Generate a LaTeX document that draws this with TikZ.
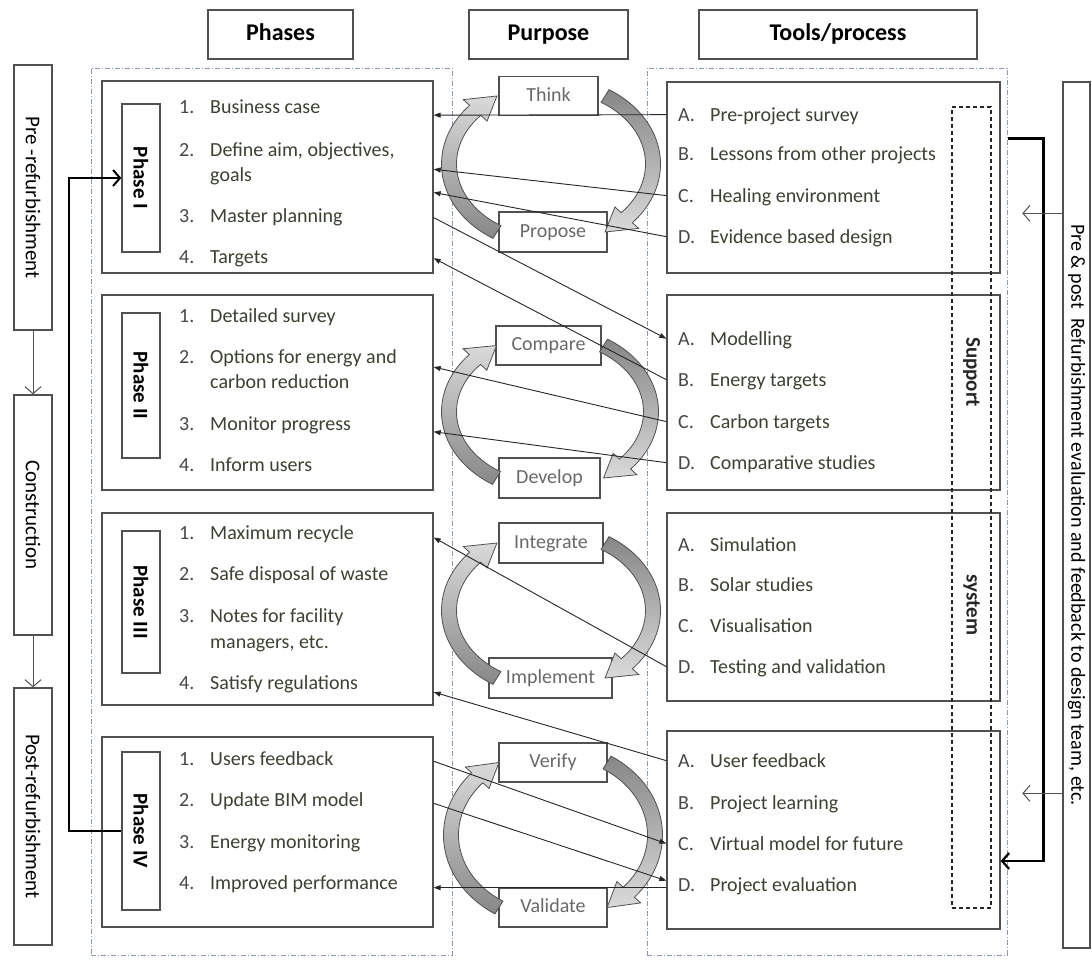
\documentclass[tikz,border=0pt]{standalone}
\usepackage{fontspec}
\setmainfont{Carlito}
\usetikzlibrary{arrows.meta,calc}

\definecolor{boxline}{RGB}{80,80,80}
\definecolor{itemtext}{RGB}{58,66,50}
\definecolor{numtext}{RGB}{70,72,70}
\definecolor{purposetext}{RGB}{105,105,105}
\definecolor{framecol}{RGB}{140,155,175}
\definecolor{cycdark}{RGB}{135,135,135}
\definecolor{cyclight}{RGB}{218,218,218}

% curved block arrow on an ellipse: cx, cy, a, b, start angle, tip angle, shading
\newcommand{\cyclearrow}[7]{%
  \pgfmathsetmacro{\hb}{#6-16}%
  \path[cycarrow, #7]
    plot[domain=#5:\hb, samples=30, smooth, variable=\t] ({#1+(#3+7.5)*cos(\t)}, {#2+(#4+7.5)*sin(\t)})
    -- ({#1+(#3+16)*cos(\hb)}, {#2+(#4+16)*sin(\hb)})
    -- ({#1+#3*cos(#6)}, {#2+#4*sin(#6)})
    -- ({#1+(#3-16)*cos(\hb)}, {#2+(#4-16)*sin(\hb)})
    -- plot[domain=\hb:#5, samples=30, smooth, variable=\t] ({#1+(#3-7.5)*cos(\t)}, {#2+(#4-7.5)*sin(\t)})
    -- cycle;}

\begin{document}
\begin{tikzpicture}[x=1pt, y=-1pt,
    box/.style={draw=boxline, line width=1.3pt, fill=white, inner sep=0pt},
    frame/.style={draw=framecol, line width=1pt, dash pattern=on 5pt off 2pt on 1pt off 2pt, inner sep=0pt},
    header/.style={box, minimum height=49pt, text height=17pt, text depth=5pt, font=\fontsize{24}{28}\selectfont\bfseries},
    stagebox/.style={box, minimum width=38pt, font=\fontsize{21}{25}\selectfont},
    labbox/.style={box, minimum width=38pt, font=\fontsize{21}{25}\selectfont\bfseries},
    purpose/.style={box, minimum height=39pt, text height=14pt, text depth=4pt, text=purposetext, font=\fontsize{20}{24}\selectfont},
    item/.style={anchor=base west, inner sep=0pt, text=itemtext, font=\fontsize{20}{24}\selectfont},
    num/.style={item, text=numtext},
    cycarrow/.style={draw=boxline, line width=0.8pt},
    rshade/.style={top color=cycdark, bottom color=cyclight},
    lshade/.style={top color=cyclight, bottom color=cycdark},
    link/.style={draw=black!85, line width=0.9pt, -{Triangle[length=7pt,width=5pt]}},
    openarr/.style={draw=boxline, line width=1pt, -{Straight Barb[length=7pt,width=16pt]}},
    thickarr/.style={draw=black, line width=2.2pt, -{Straight Barb[length=7pt,width=16pt]}},
  ]
  \useasboundingbox (0,0) rectangle (1092,959);
  \fill[white] (0,0) rectangle (1092,959);

  % column frames
  \node[frame, minimum width=361pt, minimum height=887pt] (phasearea) at (271.5,511.5) {};
  \node[frame, minimum width=360pt, minimum height=887pt] (toolsarea) at (827,511.5) {};

  % headers
  \node[header, minimum width=145pt] (hphases) at (280.5,34.5) {Phases};
  \node[header, minimum width=159pt] (hpurpose) at (548.5,34.5) {Purpose};
  \node[header, minimum width=278pt] (htools) at (838,34.5) {Tools/process};

  % stages on the left
  \node[stagebox, minimum height=265pt] (pre) at (33,197.5) {\rotatebox{-90}{Pre -refurbishment}};
  \node[stagebox, minimum height=240pt] (cons) at (33,515) {\rotatebox{-90}{Construction}};
  \node[stagebox, minimum height=257pt] (post) at (33,816.5) {\rotatebox{-90}{Post-refurbishment}};
  \draw[openarr] (pre) -- (cons);
  \draw[openarr] (cons) -- (post);

  % phase boxes
  \node[box, minimum width=331pt, minimum height=192pt] (ph1) at (267.5,177) {};
  \node[box, minimum width=331pt, minimum height=195pt] (ph2) at (267.5,392.5) {};
  \node[box, minimum width=331pt, minimum height=192pt] (ph3) at (267.5,609) {};
  \node[box, minimum width=331pt, minimum height=190pt] (ph4) at (267.5,832) {};
  \node[labbox, minimum height=148pt] (ph1lab) at (141,178) {\rotatebox{-90}{Phase I}};
  \node[labbox, minimum height=145pt] (ph2lab) at (141,385.5) {\rotatebox{-90}{Phase II}};
  \node[labbox, minimum height=142pt] (ph3lab) at (141,602) {\rotatebox{-90}{Phase III}};
  \node[labbox, minimum height=158pt] (ph4lab) at (141,831) {\rotatebox{-90}{Phase IV}};

  % tool boxes
  \node[box, minimum width=333pt, minimum height=191pt] (tool1) at (833.5,177.5) {};
  \node[box, minimum width=333pt, minimum height=195pt] (tool2) at (833.5,392.5) {};
  \node[box, minimum width=333pt, minimum height=188pt] (tool3) at (833.5,607) {};
  \node[box, minimum width=333pt, minimum height=198pt] (tool4) at (833.5,830) {};

  % support system strip
  \node[draw=black!85, line width=1.1pt, dash pattern=on 4pt off 3pt, minimum width=39pt, minimum height=801pt, inner sep=0pt] (support) at (971.5,507.5) {};
  \node[font=\fontsize{21}{25}\selectfont\bfseries, text=black!85] (suplab) at (971.5,372) {\rotatebox{-90}{Support}};
  \node[font=\fontsize{21}{25}\selectfont\bfseries, text=black!85] (syslab) at (971.5,605) {\rotatebox{-90}{system}};

  % feedback box on the right
  \node[box, minimum width=27pt, minimum height=866pt, font=\fontsize{20}{24}\selectfont] (fbbox) at (1076.5,515)
    {\rotatebox{-90}{Pre \& post\ \ Refurbishment evaluation and feedback to design team, etc.}};

  % purpose boxes
  \node[purpose, minimum width=99pt] (think) at (548.5,96) {Think};
  \node[purpose, minimum width=108pt, minimum height=40pt] (propose) at (553,232) {Propose};
  \node[purpose, minimum width=105pt] (compare) at (548.5,345.5) {Compare};
  \node[purpose, minimum width=101pt, minimum height=40pt] (develop) at (549.5,478) {Develop};
  \node[purpose, minimum width=104pt, minimum height=40pt] (integrate) at (551,543) {Integrate};
  \node[purpose, minimum width=123pt, minimum height=40pt] (implement) at (550.5,678) {Implement};
  \node[purpose, minimum width=108pt] (verify) at (553,762.5) {Verify};
  \node[purpose, minimum width=108pt] (validate) at (553,907.5) {Validate};

  % purpose cycles
  \cyclearrow{551}{164}{102}{80.2}{-58}{58}{rshade}
  \cyclearrow{551}{164}{102}{80.2}{122}{238}{lshade}
  \cyclearrow{550}{411.75}{101}{78.1}{-58}{58}{rshade}
  \cyclearrow{550}{411.75}{101}{78.1}{122}{238}{lshade}
  \cyclearrow{551}{610.5}{102}{79.6}{-58}{58}{rshade}
  \cyclearrow{551}{610.5}{102}{79.6}{122}{238}{lshade}
  \cyclearrow{553}{835}{102}{85.5}{-58}{58}{rshade}
  \cyclearrow{553}{835}{102}{85.5}{122}{238}{lshade}

  % phase items
  \foreach \nm/\n/\txt/\y in {p1a/1./{Business case}/113, p1b/2./{Define aim, objectives,}/156,
      p1c/3./{Master planning}/222, p1d/4./{Targets}/263,
      p2a/1./{Detailed survey}/322, p2b/2./{Options for energy and}/363,
      p2c/3./{Monitor progress}/430, p2d/4./{Inform users}/471,
      p3a/1./{Maximum recycle}/539, p3b/2./{Safe disposal of waste}/580,
      p3c/3./{Notes for facility}/622, p3d/4./{Satisfy regulations}/689,
      p4a/1./{Users feedback}/765, p4b/2./{Update BIM model}/806,
      p4c/3./{Energy monitoring}/848, p4d/4./{Improved performance}/889}
    {\node[num] (\nm) at (179,\y) {\n};
     \node[item] (\nm-t) at (210,\y) {\txt};}
  \node[item] (p1b-2) at (210,181) {goals};
  \node[item] (p2b-2) at (210,388) {carbon reduction};
  \node[item] (p3c-2) at (210,648) {managers, etc.};

  % tool items
  \foreach \nm/\n/\txt/\y in {t1a/A./{Pre-project survey}/121, t1b/B./{Lessons from other projects}/160,
      t1c/C./{Healing environment}/202, t1d/D./{Evidence based design}/243,
      t2a/A./{Modelling}/345, t2b/B./{Energy targets}/386,
      t2c/C./{Carbon targets}/428, t2d/D./{Comparative studies}/469,
      t3a/A./{Simulation}/551, t3b/B./{Solar studies}/591,
      t3c/C./{Visualisation}/632, t3d/D./{Testing and validation}/673,
      t4a/A./{User feedback}/767, t4b/B./{Project learning}/809,
      t4c/C./{Virtual model for future}/850, t4d/D./{Project evaluation}/891}
    {\node[num] (\nm) at (678,\y) {\n};
     \node[item] (\nm-t) at (710,\y) {\txt};}

  % links between tools and phases
  \draw[link] (tool1.west |- t1a) -- ($(ph1.north east)!0.18!(ph1.south east)$);
  \draw[link] (tool1.west |- t1c) -- ($(ph1.north east)!0.46!(ph1.south east)$);
  \draw[link] (tool1.west |- t1d) -- ($(ph1.north east)!0.58!(ph1.south east)$);
  \draw[link] ($(ph1.north east)!0.71!(ph1.south east)$) -- (tool2.west |- t2a);
  \draw[link] (tool2.west |- t2b) -- ($(ph1.north east)!0.92!(ph1.south east)$);
  \draw[link] (tool2.west |- t2c) -- ($(ph2.north east)!0.37!(ph2.south east)$);
  \draw[link] (tool2.west |- t2d) -- ($(ph2.north east)!0.70!(ph2.south east)$);
  \draw[link] (tool3.west |- t3d) -- ($(ph3.north east)!0.13!(ph3.south east)$);
  \draw[link] (tool4.west |- t4a) -- ($(ph3.north east)!0.93!(ph3.south east)$);
  \draw[link] ($(ph4.north east)!0.13!(ph4.south east)$) -- (tool4.west |- t4c);
  \draw[link] ($(ph4.north east)!0.35!(ph4.south east)$) -- ($(tool4.west |- t4d)+(0,-4)$);
  \draw[link] ($(tool4.west |- t4d)+(0,3)$) -- ($(ph4.east |- t4d)+(0,3)$);

  % loop back from phase IV to phase I
  \draw[thickarr, line width=2pt] (ph4lab.west) -- ++(-52,0) |- (ph1lab.west);

  % feedback to the tools
  \coordinate (fbstart) at ($(toolsarea.north east)+(0,71)$);
  \draw[thickarr] (fbstart) -- ++(36,0) |- ($(tool4.east)+(0,31)$);
  \draw[openarr] ($(fbbox.north west)+(0,132)$) -- ++(-40,0);
  \draw[openarr] ($(fbbox.north west)+(0,712)$) -- ++(-40,0);
\end{tikzpicture}
\end{document}
